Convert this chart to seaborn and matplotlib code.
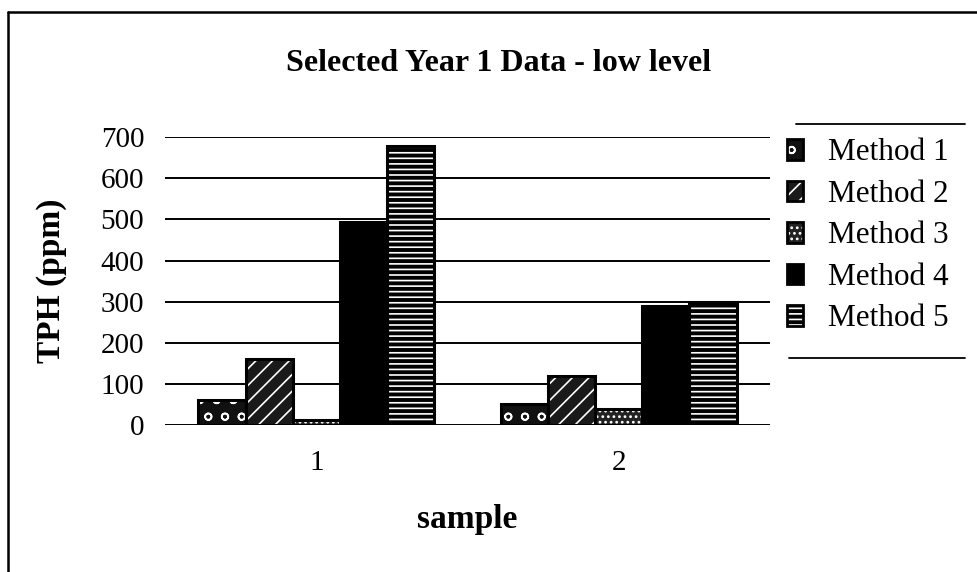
import matplotlib
matplotlib.use("Agg")
import matplotlib.pyplot as plt
from matplotlib.patches import Patch, Rectangle
from matplotlib.legend_handler import HandlerTuple
from matplotlib.lines import Line2D
import seaborn as sns
import pandas as pd

samples = ["1", "2"]
methods = ["Method 1", "Method 2", "Method 3", "Method 4", "Method 5"]
method1 = [62, 52]
method2 = [160, 118]
method3 = [12, 40]
method4 = [495, 290]
method5 = [680, 300]
yticks = [0, 100, 200, 300, 400, 500, 600, 700]

series = [method1, method2, method3, method4, method5]
df = pd.DataFrame(
    [(s, m, vals[i]) for m, vals in zip(methods, series) for i, s in enumerate(samples)],
    columns=["sample", "method", "tph"],
)

sns.set_theme(style="white")
plt.rcParams["font.family"] = ["Liberation Serif", "DejaVu Serif"]
plt.rcParams["hatch.linewidth"] = 1.2
plt.rcParams["text.color"] = "black"
plt.rcParams["axes.labelcolor"] = "black"
plt.rcParams["xtick.color"] = "black"
plt.rcParams["ytick.color"] = "black"

# face colour and hatch for each method (hatch drawn in white)
styles = {
    "Method 1": ("#111111", "o"),
    "Method 2": ("#1a1a1a", "//"),
    "Method 3": ("#222222", "..."),
    "Method 4": ("#000000", ""),
    "Method 5": ("#000000", "---"),
}

fig = plt.figure(figsize=(9.77, 5.72), dpi=100)
ax = fig.add_axes([0.169, 0.257, 0.619, 0.503])

sns.barplot(data=df, x="sample", y="tph", hue="method", hue_order=methods,
            order=samples, width=0.78, palette=["black"] * 5, legend=False,
            errorbar=None, ax=ax, zorder=3)

for container, m in zip(ax.containers, methods):
    face, hatch = styles[m]
    for bar in container:
        bar.set_facecolor(face)
        bar.set_hatch(hatch)
        bar.set_edgecolor("white")
        bar.set_linewidth(0)
        ax.add_patch(Rectangle(bar.get_xy(), bar.get_width(), bar.get_height(),
                               fill=False, edgecolor="black", linewidth=2.2, zorder=4))

ax.set_xlim(-0.5, 1.5)
ax.set_ylim(0, 700)
ax.set_yticks(yticks)
ax.set_yticklabels([str(v) for v in yticks])
ax.grid(axis="y", color="black", linewidth=1.4, zorder=0)
ax.set_axisbelow(True)
for sp in ax.spines.values():
    sp.set_visible(False)
ax.tick_params(axis="y", length=0, pad=15, labelsize=21)
ax.tick_params(axis="x", length=0, pad=18, labelsize=21)

ax.set_xlabel("sample", fontsize=24, fontweight="bold", labelpad=20)
ax.set_ylabel("TPH (ppm)", fontsize=24, fontweight="bold", labelpad=24)
fig.suptitle("Selected Year 1 Data - low level", x=0.51, y=0.915,
             fontsize=23, fontweight="bold")

handles = []
for m in methods:
    face, hatch = styles[m]
    handles.append((Patch(facecolor=face, hatch=hatch, edgecolor="white", linewidth=0),
                    Patch(fill=False, edgecolor="black", linewidth=2.0)))
fig.legend(handles, methods, handler_map={tuple: HandlerTuple(ndivide=1, pad=0)},
           loc="upper left", bbox_to_anchor=(0.806, 0.758), frameon=False,
           fontsize=22.5, handlelength=0.5, handleheight=0.65, handletextpad=0.8,
           labelspacing=0.4, borderaxespad=0, borderpad=0)

# legend rules above and below the entries
fig.add_artist(Line2D([0.815, 0.988], [1 - 124 / 572] * 2, color="black", linewidth=1.3))
fig.add_artist(Line2D([0.808, 0.988], [1 - 358 / 572] * 2, color="black", linewidth=1.3))

# chart border
fig.add_artist(Line2D([8 / 977, 8 / 977], [0, 1 - 12 / 572], color="black", linewidth=1.8))
fig.add_artist(Line2D([8 / 977, 1], [1 - 12 / 572] * 2, color="black", linewidth=1.8))

fig.savefig("out.png", dpi=100)
